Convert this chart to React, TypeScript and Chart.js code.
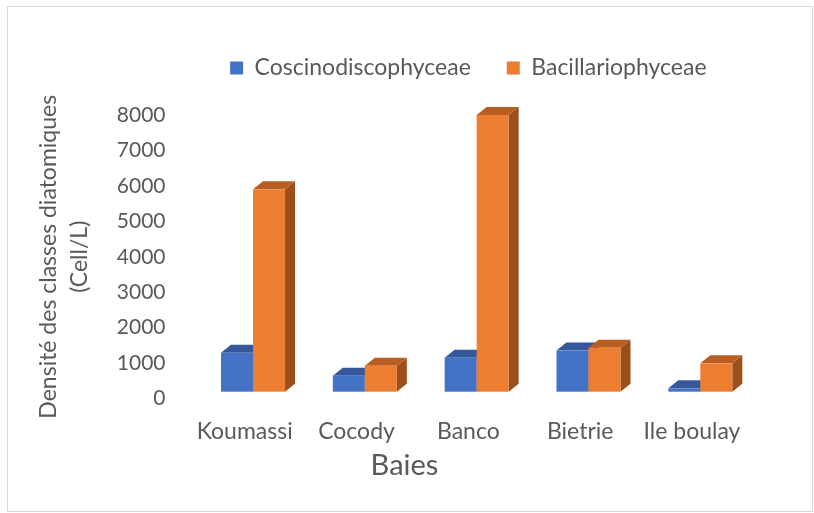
import React, { useEffect, useRef } from 'react';
import { Chart, registerables } from 'chart.js';

Chart.register(...registerables);

// ---------- data ----------
const categories = ['Koumassi', 'Cocody', 'Banco', 'Bietrie', 'Ile boulay'];
const seriesNames = ['Coscinodiscophyceae', 'Bacillariophyceae'];
const coscinodiscophyceae = [1100, 450, 960, 1160, 95];
const bacillariophyceae = [5710, 735, 7810, 1240, 800];
const yTickValues = [0, 1000, 2000, 3000, 4000, 5000, 6000, 7000, 8000];
const yAxisTitle = ['Densité des classes diatomiques', '(Cell/L)'];
const xAxisTitle = 'Baies';

// ---------- styles ----------
const FONT = 'Lato';
const TEXT = '#595959';
const FRONT = ['#4472C4', '#ED7D31'];
const TOP = ['#34589A', '#B85E22'];
const SIDE = ['#2C4B82', '#9C4F1D'];

const bar3d = {
  id: 'bar3d',
  beforeDatasetsDraw(chart: any) {
    const ctx = chart.ctx;
    const n = chart.data.labels.length;
    const sx = 8.3, sy = -6.8, dx = 10, dy = -8;
    ctx.save();
    for (let i = 0; i < n; i++) {
      chart.data.datasets.forEach((_ds: any, d: number) => {
        const el = chart.getDatasetMeta(d).data[i];
        if (!el) return;
        const { x, y, base, width } = el.getProps(['x', 'y', 'base', 'width'], true);
        const l = x - width / 2 + sx;
        const r = x + width / 2 + sx;
        const t = Math.min(y, base) + sy;
        const b = Math.max(y, base) + sy;
        ctx.fillStyle = SIDE[d];
        ctx.beginPath();
        ctx.moveTo(r, t); ctx.lineTo(r + dx, t + dy); ctx.lineTo(r + dx, b + dy); ctx.lineTo(r, b);
        ctx.closePath(); ctx.fill();
        ctx.fillStyle = TOP[d];
        ctx.beginPath();
        ctx.moveTo(l, t); ctx.lineTo(l + dx, t + dy); ctx.lineTo(r + dx, t + dy); ctx.lineTo(r, t);
        ctx.closePath(); ctx.fill();
        ctx.fillStyle = FRONT[d];
        ctx.fillRect(l, t, r - l, b - t);
      });
    }
    ctx.restore();
    return false;
  },
};

export default function App() {
  const ref = useRef<HTMLCanvasElement | null>(null);
  useEffect(() => {
    if (!ref.current) return;
    const chart = new Chart(ref.current, {
      type: 'bar',
      data: {
        labels: categories,
        datasets: [
          { label: seriesNames[0], data: coscinodiscophyceae, backgroundColor: FRONT[0], borderWidth: 0 },
          { label: seriesNames[1], data: bacillariophyceae, backgroundColor: FRONT[1], borderWidth: 0 },
        ],
      },
      options: {
        responsive: false,
        animation: false,
        devicePixelRatio: 1,
        datasets: { bar: { categoryPercentage: 0.5725, barPercentage: 1 } },
        layout: { padding: { top: 20.5, left: 8, right: 13, bottom: 0 } },
        plugins: {
          tooltip: { enabled: false },
          legend: {
            position: 'top',
            fullSize: false,
            labels: {
              boxWidth: 13,
              boxHeight: 13,
              padding: 36,
              color: TEXT,
              font: { family: FONT, size: 23 },
            },
          },
          subtitle: {
            display: true,
            text: ' ',
            position: 'top',
            weight: 500,
            fullSize: false,
            font: { size: 10, lineHeight: 1 },
            padding: { top: 15.5, bottom: 0 },
          },
          title: {
            display: true,
            text: xAxisTitle,
            position: 'bottom',
            color: TEXT,
            font: { family: FONT, size: 29, weight: 'normal', lineHeight: 1.2 },
            padding: { top: 2.8, bottom: 29.6 },
          },
        },
        scales: {
          x: {
            grid: { display: false, drawTicks: false },
            border: { display: false },
            afterFit: (s: any) => {
              s.height = 47.3;
            },
            ticks: {
              color: TEXT,
              font: { family: FONT, size: 23 },
              padding: 19.7,
              autoSkip: false,
              maxRotation: 0,
              minRotation: 0,
            },
          },
          y: {
            min: 0,
            max: 8000,
            grid: { display: false, drawTicks: false },
            border: { display: false },
            afterBuildTicks: (s: any) => {
              s.ticks = yTickValues.map((v) => ({ value: v }));
            },
            afterFit: (s: any) => {
              s.width = 180.8;
            },
            ticks: {
              color: TEXT,
              font: { family: FONT, size: 21 },
              padding: 23.3,
              autoSkip: false,
              callback: (v: any) => String(v),
            },
            title: {
              display: true,
              text: yAxisTitle,
              color: TEXT,
              font: { family: FONT, size: 23, lineHeight: 1.35 },
              padding: { top: 25.5, bottom: 0 },
            },
          },
          yR: {
            type: 'linear',
            position: 'right',
            display: true,
            grid: { display: false, drawTicks: false },
            border: { display: false },
            ticks: { display: false },
            afterFit: (s: any) => {
              s.width = 53.1;
            },
          },
        },
      },
      plugins: [bar3d],
    } as any);
    return () => chart.destroy();
  }, []);

  return (
    <div style={{ position: 'fixed', left: 0, top: 0, width: 814, height: 513, background: '#fff' }}>
      <canvas ref={ref} width={814} height={513} style={{ display: 'block', width: 814, height: 513 }} />
      <div
        style={{
          position: 'absolute',
          left: 7,
          top: 6,
          width: 806,
          height: 506,
          border: '1px solid #D9D9D9',
          boxSizing: 'border-box',
          pointerEvents: 'none',
        }}
      />
    </div>
  );
}
